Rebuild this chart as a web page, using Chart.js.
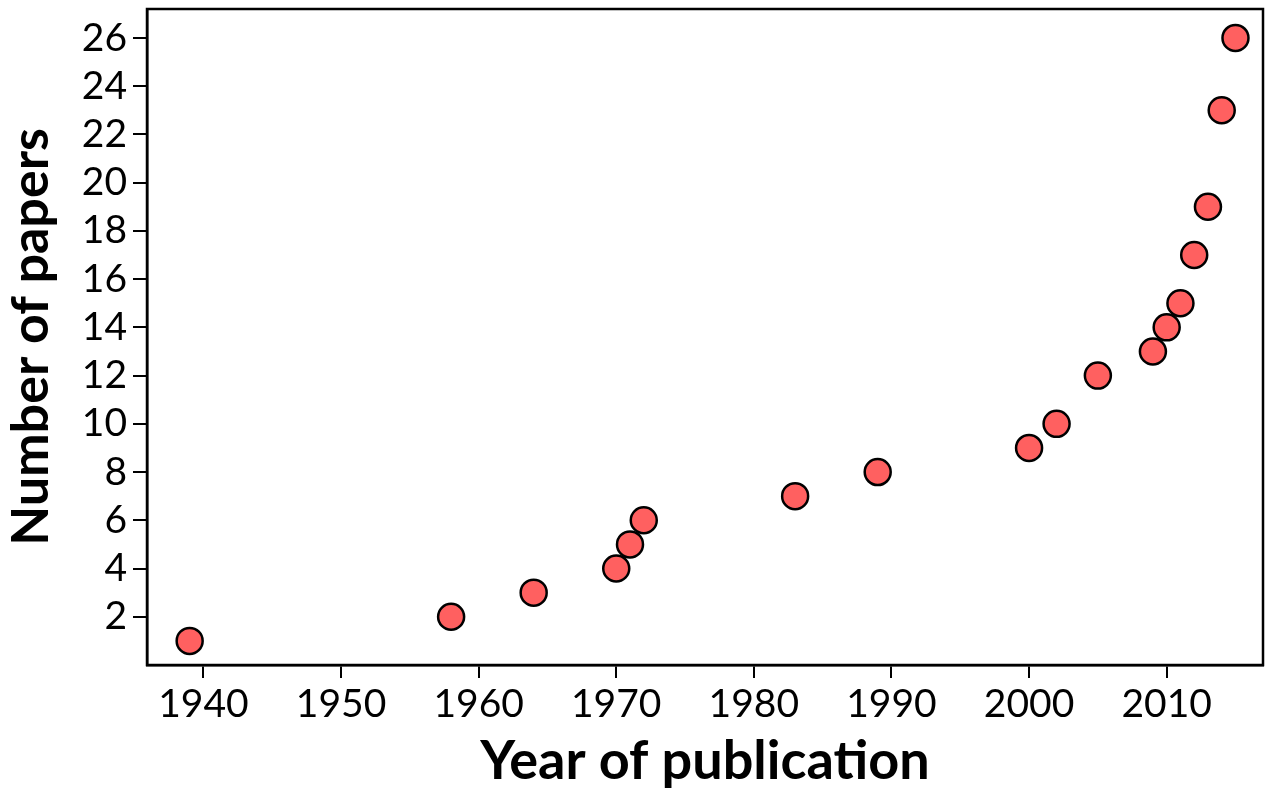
<!DOCTYPE html>
<html>
<head>
<meta charset="utf-8">
<script src="https://cdn.jsdelivr.net/npm/chart.js@4/dist/chart.umd.min.js"></script>
<style>
  html, body { margin: 0; padding: 0; background: #fff; }
  #wrap { width: 1273px; height: 800px; }
</style>
</head>
<body>
<div id="wrap"><canvas id="chart"></canvas></div>
<script>
const years = [1939, 1958, 1964, 1970, 1971, 1972, 1983, 1989, 2000, 2002, 2005, 2009, 2010, 2011, 2012, 2013, 2014, 2015];
const papers = [1, 2, 3, 4, 5, 6, 7, 8, 9, 10, 12, 13, 14, 15, 17, 19, 23, 26];
const xTicks = [1940, 1950, 1960, 1970, 1980, 1990, 2000, 2010];
const yTicks = [2, 4, 6, 8, 10, 12, 14, 16, 18, 20, 22, 24, 26];

// box around the plot area
const frame = {
  id: 'frame',
  afterDraw(chart) {
    const a = chart.chartArea, c = chart.ctx;
    c.save();
    c.strokeStyle = '#000';
    c.lineWidth = 2.5;
    c.strokeRect(a.left, a.top, a.right - a.left, a.bottom - a.top);
    c.restore();
  }
};

const tickFont = { family: 'Lato', size: 39 };

new Chart(document.getElementById('chart'), {
  type: 'scatter',
  data: {
    datasets: [{
      data: years.map((y, i) => ({ x: y, y: papers[i] })),
      backgroundColor: '#ff6060',
      borderColor: '#000',
      borderWidth: 2.5,
      pointRadius: 13,
      pointHoverRadius: 13
    }]
  },
  options: {
    responsive: true,
    maintainAspectRatio: false,
    animation: false,
    layout: { autoPadding: false, padding: { left: 0, right: 10, top: 9, bottom: 6 } },
    plugins: { legend: { display: false }, tooltip: { enabled: false } },
    scales: {
      x: {
        type: 'linear',
        min: 1935.9,
        max: 2017,
        afterBuildTicks: s => { s.ticks = xTicks.map(v => ({ value: v })); },
        afterFit: s => { s.height = 129; s.paddingLeft = 0; s.paddingRight = 0; },
        grid: { drawOnChartArea: false, drawTicks: true, tickLength: 13, color: '#000', lineWidth: 2 },
        border: { display: true, color: '#000', width: 2.5 },
        ticks: { color: '#000', font: tickFont, padding: 3, maxRotation: 0, callback: v => String(v) },
        title: { display: true, text: 'Year of publication', color: '#000', font: { family: 'Lato', size: 54, weight: 'bold' }, padding: { top: 0, bottom: 0 } }
      },
      y: {
        min: 0,
        max: 27.2,
        afterBuildTicks: s => { s.ticks = yTicks.map(v => ({ value: v })); },
        afterFit: s => { s.width = 147; s.paddingTop = 0; s.paddingBottom = 0; },
        grid: { drawOnChartArea: false, drawTicks: true, tickLength: 14, color: '#000', lineWidth: 2 },
        border: { display: true, color: '#000', width: 2.5 },
        ticks: { color: '#000', font: tickFont, padding: 6 },
        title: { display: true, text: 'Number of papers', color: '#000', font: { family: 'Lato', size: 52, weight: 'bold' }, padding: { top: 0, bottom: 4 } }
      }
    }
  },
  plugins: [frame]
});
</script>
</body>
</html>
